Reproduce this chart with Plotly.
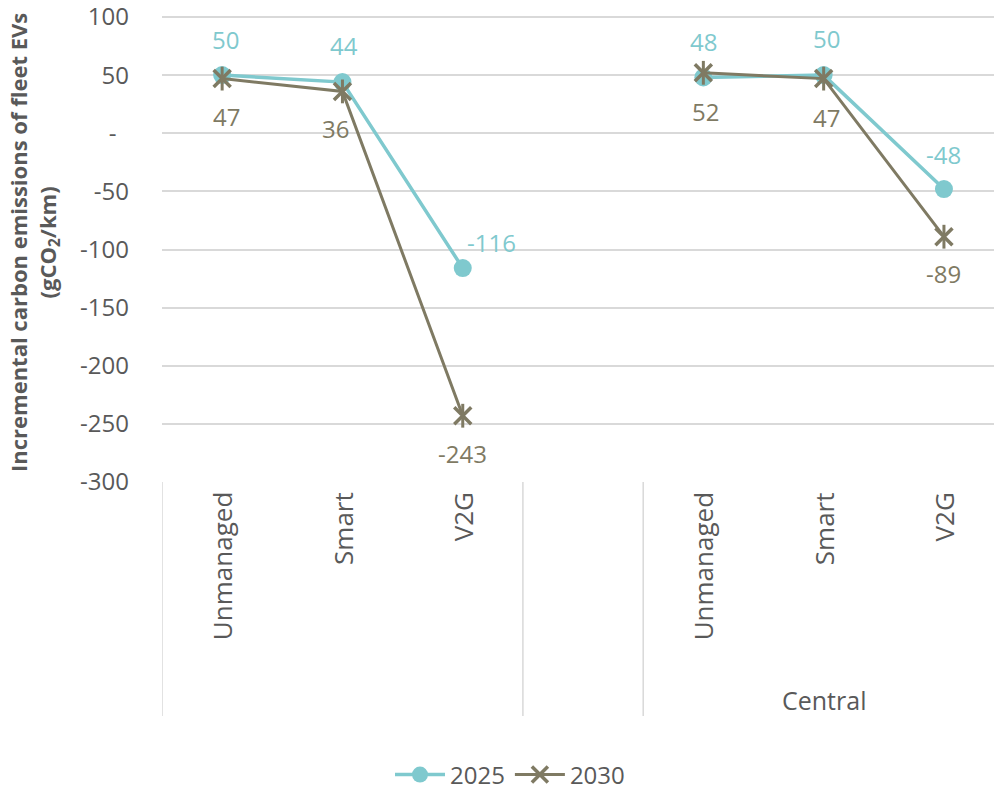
import plotly.graph_objects as go

# ---- data ----
categories = ["Unmanaged", "Smart", "V2G", "", "Unmanaged", "Smart", "V2G"]
group_labels = ["", "", "Central"]
group_sizes = [3, 1, 3]
series_names = ["2025", "2030"]
values_2025 = [50, 44, -116, None, 48, 50, -48]
values_2030 = [47, 36, -243, None, 52, 47, -89]
y_tick_values = [100, 50, 0, -50, -100, -150, -200, -250, -300]
y_tick_labels = ["100", "50", "-\u00a0\u00a0", "-50", "-100", "-150", "-200", "-250", "-300"]

# ---- style ----
TEAL = "#7FC9CE"
OLIVE = "#7F7A63"
GREY = "#595959"
GRID = "#D9D9D9"
FONT = "Open Sans"

W, H = 994, 792
ML, MR, MT, MB = 162, 0, 8, 310
plot_w = W - ML - MR
plot_h = H - MT - MB
px_per_unit = 465 / 400.0
slot_px = 120.3
x_lo = -0.5
x_hi = x_lo + plot_w / slot_px
y_lo = -300
y_hi = y_lo + plot_h / px_per_unit

xs = list(range(len(categories)))

fig = go.Figure()

fig.add_trace(go.Scatter(
    x=xs, y=values_2025, name=series_names[0], mode="lines+markers",
    line=dict(color=TEAL, width=3.5),
    marker=dict(symbol="circle", size=18, color=TEAL),
    connectgaps=False, cliponaxis=False,
))
fig.add_trace(go.Scatter(
    x=xs, y=values_2030, name=series_names[1], mode="lines+markers",
    line=dict(color=OLIVE, width=3),
    marker=dict(symbol="x-thin-open", size=17, color=OLIVE,
                line=dict(color=OLIVE, width=3.5)),
    connectgaps=False, cliponaxis=False, legendgroup="s2030",
))
fig.add_trace(go.Scatter(
    x=xs, y=values_2030, name=series_names[1], mode="markers",
    marker=dict(symbol="line-ns-open", size=17, color=OLIVE,
                line=dict(color=OLIVE, width=3)),
    showlegend=False, cliponaxis=False, legendgroup="s2030", hoverinfo="skip",
))

annotations = []
# data labels: (xshift, yshift) per point
off_2025 = [(3, 36), (2, 37), (29, 26), (0, 0), (0, 36), (3, 37), (0, 35)]
off_2030 = [(4, -38), (-7, -37), (0, -38), (0, 0), (2, -39), (3, -39), (0, -37)]
for vals, offs, col in ((values_2025, off_2025, TEAL), (values_2030, off_2030, OLIVE)):
    for i, v in enumerate(vals):
        if v is None:
            continue
        annotations.append(dict(
            x=i, y=v, xref="x", yref="y", text=str(v), showarrow=False,
            xshift=offs[i][0], yshift=offs[i][1],
            font=dict(family=FONT, size=24, color=col),
            xanchor="center", yanchor="middle",
        ))

def py(pixel_y):
    """convert a figure pixel row to paper coordinate"""
    return (MT + plot_h - pixel_y) / plot_h

# category labels (rotated)
for i, c in enumerate(categories):
    if not c:
        continue
    annotations.append(dict(
        x=i, y=0, xref="x", yref="paper", text=c, showarrow=False,
        textangle=-90, xanchor="center", yanchor="top", yshift=-8,
        font=dict(family=FONT, size=26, color=GREY),
    ))

# group labels and separators
shapes = []
pos = -0.5
sep_bottom = py(716)
shapes.append(dict(type="line", xref="x", yref="paper", x0=pos, x1=pos,
                   y0=0, y1=sep_bottom, line=dict(color=GRID, width=1.5)))
for lab, n in zip(group_labels, group_sizes):
    center = pos + n / 2
    if lab:
        annotations.append(dict(
            x=center, y=py(700), xref="x", yref="paper",
            text=lab, showarrow=False, xanchor="center", yanchor="middle",
            font=dict(family=FONT, size=25, color=GREY),
        ))
    pos += n
    shapes.append(dict(type="line", xref="x", yref="paper", x0=pos, x1=pos,
                       y0=0, y1=sep_bottom, line=dict(color=GRID, width=1.5)))

# y-axis title
annotations.append(dict(
    x=(34 - ML) / plot_w, y=py(243), xref="paper", yref="paper",
    text="Incremental carbon emissions of fleet EVs<br>(gCO<sub>2</sub>/km)",
    showarrow=False, textangle=-90, xanchor="center", yanchor="middle",
    align="center",
    font=dict(family=FONT, size=22, color=GREY, weight="bold"),
))

fig.update_layout(
    width=W, height=H,
    margin=dict(l=ML, r=MR, t=MT, b=MB, pad=0),
    paper_bgcolor="white", plot_bgcolor="white",
    font=dict(family=FONT, size=24, color=GREY),
    showlegend=True,
    legend=dict(orientation="h", xref="container", yref="container",
                x=510 / W, y=1 - 775 / H, xanchor="center", yanchor="middle",
                font=dict(family=FONT, size=24, color=GREY),
                itemwidth=50, tracegroupgap=0),
    annotations=annotations,
    shapes=shapes,
    xaxis=dict(range=[x_lo, x_hi], showgrid=False, zeroline=False,
               showticklabels=False, ticks="", showline=False, fixedrange=True),
    yaxis=dict(range=[y_lo, y_hi], tickvals=y_tick_values, ticktext=y_tick_labels,
               showgrid=True, gridcolor=GRID, gridwidth=1.5, zeroline=False,
               showline=False, ticks="", ticklabelstandoff=32,
               ticklabeloverflow="allow",
               tickfont=dict(family=FONT, size=24, color=GREY), fixedrange=True),
)

fig.write_html("out.html")
